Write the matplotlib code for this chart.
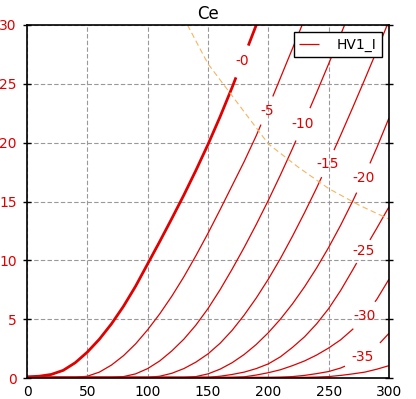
import numpy as np
import matplotlib
matplotlib.use("Agg")
import matplotlib.pyplot as plt

# Curves (x, y), one per level
x_0 = [0, 10, 20, 30, 40, 50, 60, 70, 80, 90, 100, 110, 120, 130, 140, 150, 160, 170, 180, 190]
y_0 = [0.1, 0.15, 0.3, 0.65, 1.3, 2.2, 3.3, 4.6, 6.1, 7.8, 9.7, 11.6, 13.55, 15.55, 17.65, 19.85, 22.2, 24.7, 27.35, 30]

x_5 = [0, 40, 50, 60, 70, 80, 90, 100, 110, 120, 130, 140, 150, 160, 170, 180, 190, 200, 210, 220, 228]
y_5 = [0.05, 0.05, 0.15, 0.5, 1.1, 1.9, 2.9, 4.1, 5.45, 6.95, 8.6, 10.4, 12.3, 14.3, 16.35, 18.4, 20.6, 23.0, 25.5, 28.0, 30]

x_10 = [0, 70, 80, 90, 100, 110, 120, 130, 140, 150, 160, 170, 180, 190, 200, 210, 220, 230, 240, 250, 260, 263.2]
y_10 = [0.05, 0.05, 0.12, 0.35, 0.8, 1.45, 2.3, 3.3, 4.5, 5.9, 7.5, 9.25, 11.1, 13.05, 15.1, 17.25, 19.5, 21.85, 24.25, 26.7, 29.2, 30]

x_15 = [0, 100, 110, 120, 130, 140, 150, 160, 170, 180, 190, 200, 210, 220, 230, 240, 250, 260, 270, 280, 290, 298.5]
y_15 = [0.05, 0.05, 0.15, 0.4, 0.8, 1.35, 2.05, 2.95, 4.05, 5.35, 6.8, 8.4, 10.15, 12.05, 14.05, 16.15, 18.35, 20.65, 23.0, 25.4, 27.85, 30]

x_20 = [0, 130, 140, 150, 160, 170, 180, 190, 200, 210, 220, 230, 240, 250, 260, 270, 280, 290, 300]
y_20 = [0.05, 0.05, 0.12, 0.35, 0.75, 1.3, 2.0, 2.85, 3.85, 5.0, 6.3, 7.75, 9.35, 11.1, 13.0, 15.05, 17.25, 19.6, 22.1]

x_25 = [0, 150, 160, 170, 180, 190, 200, 210, 220, 230, 240, 250, 260, 270, 280, 290, 300]
y_25 = [0.05, 0.05, 0.15, 0.3, 0.5, 0.8, 1.2, 1.8, 2.6, 3.5, 4.6, 5.9, 7.45, 9.2, 11.0, 12.75, 14.55]

x_30 = [0, 170, 180, 190, 200, 210, 220, 230, 240, 250, 260, 270, 280, 290, 300]
y_30 = [0.05, 0.05, 0.1, 0.25, 0.45, 0.7, 1.05, 1.45, 1.95, 2.55, 3.25, 4.15, 5.3, 6.7, 8.4]

x_35 = [0, 200, 210, 220, 230, 240, 250, 260, 270, 280, 290, 300]
y_35 = [0.05, 0.05, 0.07, 0.12, 0.22, 0.37, 0.55, 0.85, 1.3, 1.9, 2.7, 3.8]

x_40 = [0, 220, 230, 240, 250, 260, 270, 280, 290, 300]
y_40 = [0.05, 0.05, 0.06, 0.08, 0.12, 0.22, 0.35, 0.5, 0.75, 1.05]

# Dashed orange boundary
x_bound = [133, 150, 175, 200, 225, 250, 275, 300]
y_bound = [30, 26.7, 23.3, 19.9, 17.9, 16.1, 14.7, 13.5]

curves = [(x_0, y_0), (x_5, y_5), (x_10, y_10), (x_15, y_15), (x_20, y_20),
          (x_25, y_25), (x_30, y_30), (x_35, y_35), (x_40, y_40)]
level_labels = ["-0", "-5", "-10", "-15", "-20", "-25", "-30", "-35", None]

# where the inline labels sit (x centre) and the half width of the gap
label_x = [178.3, 198.8, 228.7, 249.3, 278.7, 278.7, 279.4, 278.0, None]
gap_half = [5.1, 4.9, 5.8, 5.1, 5.5, 5.5, 9.0, 14.5, None]

RED = "#e00000"


def split_at_gap(x, y, lo, hi):
    x = np.asarray(x, float)
    y = np.asarray(y, float)
    left = x < lo
    right = x > hi
    xl = np.append(x[left], lo)
    yl = np.append(y[left], np.interp(lo, x, y))
    xr = np.insert(x[right], 0, hi)
    yr = np.insert(y[right], 0, np.interp(hi, x, y))
    return [(xl, yl), (xr, yr)]


fig = plt.figure(figsize=(4.16, 3.99), dpi=100)
ax = fig.add_axes([27 / 416, 21 / 399, 362 / 416, 353 / 399])

for i, (cx, cy) in enumerate(curves):
    lw = 2.0 if i == 0 else 0.9
    if label_x[i] is None:
        pieces = [(np.asarray(cx), np.asarray(cy))]
    else:
        pieces = split_at_gap(cx, cy, label_x[i] - gap_half[i], label_x[i] + gap_half[i])
    for j, (px, py) in enumerate(pieces):
        lab = "HV1_I" if (i == 1 and j == 0) else None
        ax.plot(px, py, color=RED, lw=lw, label=lab, solid_capstyle="butt",
                solid_joinstyle="round")
    if level_labels[i] is not None:
        ly = np.interp(label_x[i], cx, cy)
        ax.text(label_x[i], ly, level_labels[i], color=RED, fontsize=10,
                ha="center", va="center")

ax.plot(x_bound, y_bound, color="#f5b560", lw=0.8, linestyle=(0, (5, 3)))

ax.set_xlim(0, 300)
ax.set_ylim(0, 30)
ax.set_xticks(np.arange(0, 301, 50))
ax.set_yticks(np.arange(0, 31, 5))
ax.set_axisbelow(True)
ax.grid(True, color="#999999", linestyle=(0, (4, 2)), linewidth=0.8)

ax.tick_params(axis="y", direction="inout", length=6, width=1, left=True, right=True,
               labelcolor=RED, labelsize=10, pad=4.5)
ax.tick_params(axis="x", length=0, labelsize=10, pad=5, colors="black")

for sp in ax.spines.values():
    sp.set_linewidth(1.2)
    sp.set_color("black")

ax.set_title("Ce", fontsize=12, pad=4)

leg = ax.legend(loc="upper right", fancybox=False, edgecolor="black", framealpha=1,
                fontsize=10, handlelength=1.4, handletextpad=1.3, borderaxespad=0.5)
leg.get_frame().set_linewidth(1.0)

fig.savefig("out.png", dpi=100)
